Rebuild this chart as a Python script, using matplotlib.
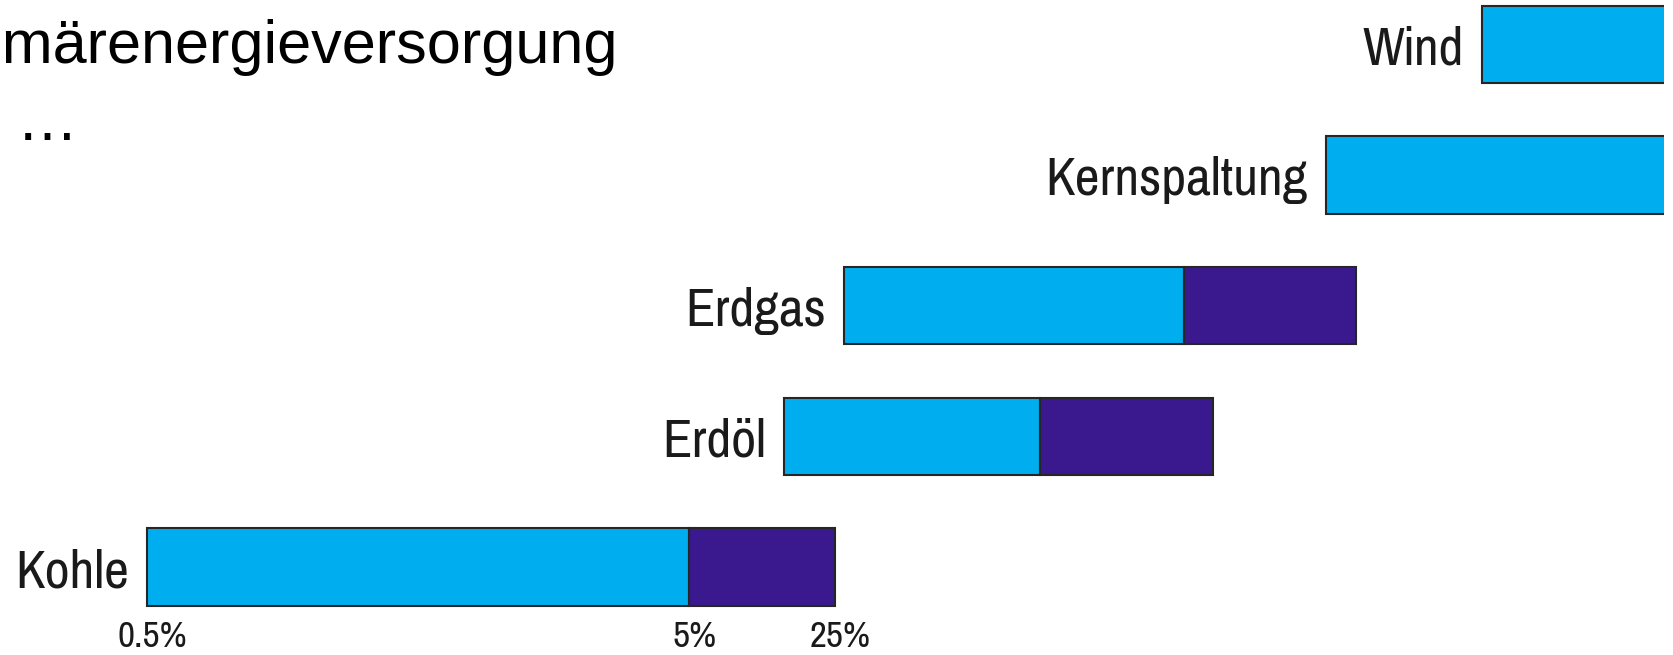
import matplotlib
matplotlib.use("Agg")
import matplotlib.pyplot as plt
from matplotlib import font_manager

# energy carriers, bottom to top
sources = ["Kohle", "Erdöl", "Erdgas", "Kernspaltung", "Wind"]
# schematic positions (0-100 across the visible width)
bar_start = [8.83, 47.12, 50.72, 79.69, 89.06]
bar_split = [41.41, 62.50, 71.15, 110.0, 110.0]
bar_end = [50.18, 72.90, 81.49, 110.0, 110.0]
tick_labels = ["0.5%", "5%", "25%"]

blue = "#00AEEF"
purple = "#3A188E"
edge = "#262626"

names = {f.name for f in font_manager.fontManager.ttflist}
narrow = "Liberation Sans"
for cand in ["Nimbus Sans Narrow", "Liberation Sans Narrow", "Arial Narrow",
             "Pragati Narrow", "PT Sans Narrow", "Roboto Condensed", "Archivo Narrow"]:
    if cand in names:
        narrow = cand
        break

fig = plt.figure(figsize=(16.73, 6.55), dpi=100)
ax = fig.add_axes([0, 0, 1664 / 1673, 1])
ax.set_xlim(0, 100)
ax.set_ylim(-0.674, 4.341)
ax.axis("off")

rows = list(range(len(sources)))
h = 0.593
for i in rows:
    ax.barh(i, bar_split[i] - bar_start[i], left=bar_start[i], height=h,
            color=blue, edgecolor=edge, linewidth=1.5)
    if bar_end[i] > bar_split[i]:
        ax.barh(i, bar_end[i] - bar_split[i], left=bar_split[i], height=h,
                color=purple, edgecolor=edge, linewidth=1.5)
    ax.text(bar_start[i] - 1.1, i - 0.155, sources[i], ha="right", va="baseline",
            fontsize=42.5, family=narrow, color="#1a1a1a")

# percentage marks under the Kohle bar
for x, lab in zip([bar_start[0], bar_split[0], bar_end[0]], tick_labels):
    ax.text(x + 0.3, -0.615, lab, ha="center", va="baseline",
            fontsize=29, family=narrow, color="#1a1a1a")

# slide text (cut off at the left edge)
fig.text(617 / 1673, 1 - 63 / 655, "Primärenergieversorgung", ha="right",
         va="baseline", fontsize=44, family="Liberation Sans")
fig.text(17 / 1673, 1 - 140 / 655, "…", ha="left", va="baseline",
         fontsize=44, family="Liberation Sans")

fig.savefig("out.png", dpi=100)
